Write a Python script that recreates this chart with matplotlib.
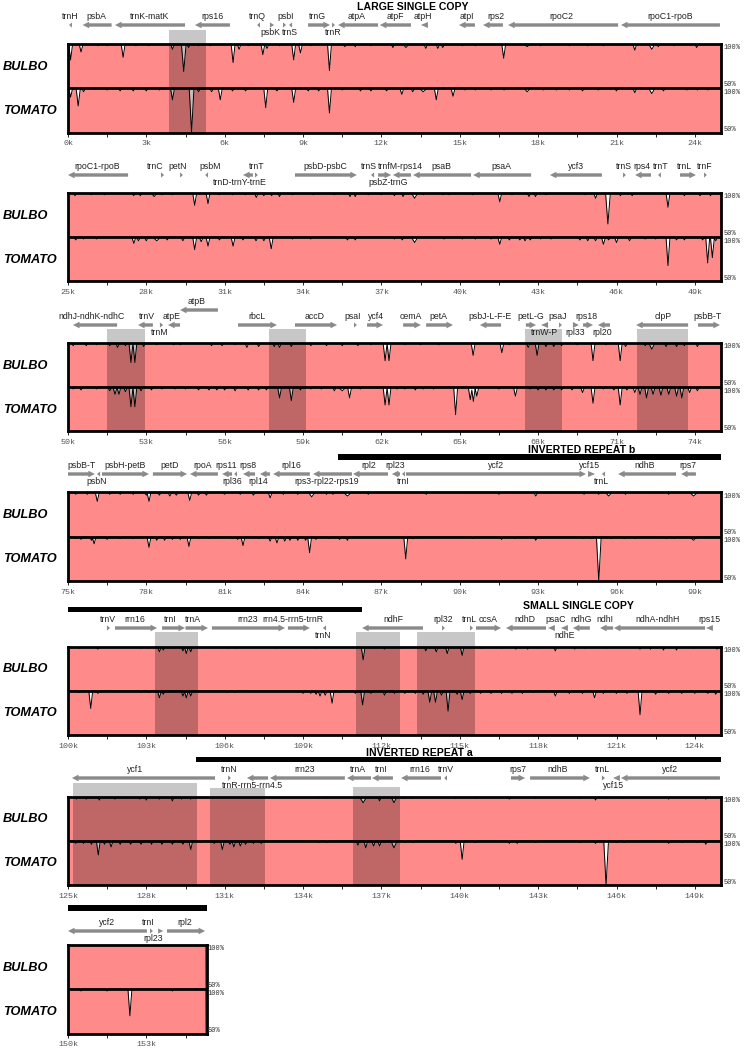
import numpy as np
import matplotlib
matplotlib.use("Agg")
import matplotlib.pyplot as plt
from matplotlib.patches import Polygon, Rectangle

# ---------------- data ----------------
ROW_STARTS = [0, 25, 50, 75, 100, 125, 150]
ROW_ENDS = [25, 50, 75, 100, 125, 150, 155.33]
GENOME_END = 155.28
TRACK_NAMES = ["BULBO", "TOMATO"]

# (position kb, minimum % identity[, half-width kb])
BULBO_DIPS = [
    (0.10, 82), (0.50, 91), (1.15, 98), (1.50, 98), (2.11, 85), (2.60, 98), (3.10, 98), (4.00, 94),
    (4.43, 69, 0.09), (4.62, 96), (5.00, 98), (5.45, 98), (6.32, 79), (6.55, 94), (6.90, 98), (7.46, 88),
    (7.62, 95), (8.10, 98), (8.64, 82), (8.90, 90), (9.30, 98), (10.01, 70), (10.60, 97), (11.00, 97),
    (11.60, 98), (12.44, 96), (12.94, 96, 0.12), (13.70, 95), (14.16, 95), (14.35, 96), (15.10, 98),
    (15.60, 98), (16.68, 84), (17.58, 97, 0.15), (18.10, 98), (19.20, 98), (19.90, 98), (20.50, 98),
    (21.70, 93), (22.35, 94, 0.12), (22.60, 97), (23.20, 98), (24.07, 96),
    (25.27, 97), (25.90, 98), (26.40, 98), (27.52, 97), (27.77, 97), (28.30, 96, 0.12), (28.60, 98),
    (29.00, 98), (29.85, 86), (30.36, 88), (30.80, 98), (31.30, 98), (31.80, 98), (32.21, 95), (32.50, 97),
    (32.80, 97), (33.10, 96), (33.60, 98), (34.40, 98), (35.20, 98), (35.80, 96), (36.00, 96), (36.50, 98),
    (37.00, 98), (37.50, 97), (37.83, 96), (38.27, 94, 0.12), (38.60, 98), (39.35, 98), (39.60, 98),
    (40.50, 98), (41.53, 90), (42.00, 98), (42.65, 96), (42.90, 96), (43.30, 98), (44.80, 98), (45.20, 94),
    (45.67, 65, 0.09), (46.15, 97), (46.60, 97), (47.97, 84), (48.60, 97), (49.20, 97), (49.60, 97),
    (50.20, 97), (50.70, 97), (51.10, 98), (51.60, 97), (51.90, 95), (52.20, 97), (52.41, 78), (52.56, 78),
    (52.90, 96), (53.40, 98), (54.05, 98), (54.30, 98), (55.50, 97), (55.90, 97), (56.40, 98), (56.85, 95),
    (57.30, 96), (57.90, 96), (58.10, 95), (58.55, 96), (59.30, 97), (59.90, 97), (60.50, 97), (61.10, 97),
    (61.60, 98), (62.14, 80), (62.29, 80), (62.90, 98), (63.50, 98), (64.20, 98), (65.51, 86), (66.61, 89),
    (66.90, 98), (67.62, 95), (67.96, 86), (68.30, 96), (68.60, 96), (68.90, 97), (69.50, 98), (70.10, 80),
    (70.60, 98), (71.14, 80), (71.35, 96), (72.10, 97), (72.35, 93, 0.12), (72.90, 96), (73.30, 96),
    (73.60, 97), (74.10, 96),
    (75.30, 98), (75.74, 98), (76.12, 90), (76.60, 98), (77.00, 98), (77.50, 98), (78.00, 97), (78.10, 90),
    (78.50, 97), (78.90, 96), (79.15, 97), (79.66, 91), (80.00, 97), (80.30, 97), (81.00, 98), (81.60, 98),
    (82.10, 97), (82.74, 94), (83.25, 98), (83.80, 98), (84.33, 95, 0.12), (84.90, 98), (85.15, 98),
    (85.70, 96, 0.15), (86.50, 98), (88.72, 98), (91.50, 98), (92.91, 96), (94.76, 98), (95.32, 98),
    (95.70, 96, 0.12), (96.35, 98), (98.00, 98), (98.95, 96, 0.15),
    (100.43, 98), (101.15, 97, 0.12), (102.80, 98), (103.10, 98), (103.50, 94), (103.65, 96), (104.40, 95),
    (104.53, 92), (104.70, 94), (106.10, 98), (106.40, 98), (108.00, 98), (109.50, 98), (111.30, 85),
    (112.12, 97), (112.80, 98), (113.70, 95), (114.10, 94), (114.52, 92), (115.09, 90), (115.85, 98),
    (116.60, 98), (117.15, 97), (117.60, 97), (118.00, 98), (118.66, 95), (119.40, 97), (119.80, 98),
    (120.60, 98), (121.90, 97), (122.30, 97), (122.80, 96), (123.30, 96), (123.96, 98), (124.85, 97),
    (125.33, 97), (125.70, 97), (126.20, 96), (126.80, 97), (127.25, 98), (127.75, 97), (128.00, 96),
    (128.50, 97), (129.00, 95), (129.35, 97), (129.70, 97), (134.60, 98), (134.90, 98), (136.30, 93, 0.15),
    (136.93, 95), (137.48, 93, 0.12), (137.90, 98), (138.20, 98), (139.85, 98), (140.60, 98),
    (141.90, 97, 0.15), (142.90, 98), (144.60, 98), (145.20, 96), (145.60, 98), (146.20, 98), (148.00, 97),
    (149.42, 97), (150.80, 99),
]

TOMATO_DIPS = [
    (0.10, 90), (0.39, 80, 0.08), (0.60, 96), (1.50, 98), (2.00, 97), (2.50, 97), (3.00, 97), (3.50, 98),
    (4.00, 87), (4.73, 50, 0.09), (5.00, 96), (5.50, 96), (5.83, 87), (6.30, 97), (6.80, 97), (7.57, 78),
    (8.00, 97), (8.64, 84), (9.20, 97), (9.60, 97), (10.01, 72), (10.50, 98), (11.20, 97), (11.60, 97),
    (12.20, 97), (12.78, 93), (13.20, 96), (13.60, 96, 0.15), (14.10, 87), (14.74, 91), (15.20, 98),
    (15.60, 98), (16.20, 98), (16.70, 98), (17.58, 96, 0.12), (18.20, 98), (18.70, 98), (19.20, 98),
    (19.70, 97), (20.30, 98), (21.00, 97), (21.70, 95), (22.35, 94, 0.12), (22.80, 97), (23.70, 98),
    (24.10, 98), (24.50, 98),
    (25.30, 97), (25.60, 98), (26.10, 98), (27.52, 93), (27.70, 96), (28.00, 96), (28.40, 96, 0.15),
    (28.80, 97), (29.40, 96), (29.85, 86), (30.10, 95), (30.36, 90), (30.80, 97), (31.32, 90), (31.70, 97),
    (32.20, 96), (32.50, 96), (32.78, 87), (33.60, 98), (34.30, 98), (35.70, 97), (36.00, 97),
    (37.50, 98), (37.80, 97), (38.27, 94, 0.12), (39.40, 98), (40.10, 98), (40.60, 98), (41.20, 98),
    (41.53, 92), (41.90, 97), (42.30, 97), (42.50, 96), (42.70, 97), (43.10, 98), (43.50, 98), (44.60, 97),
    (44.90, 96), (45.20, 96), (45.50, 92), (45.70, 97), (46.00, 94), (46.50, 96), (47.10, 98), (47.50, 98),
    (47.97, 68), (48.30, 97), (48.60, 97), (49.30, 97), (49.49, 71), (49.67, 77), (49.80, 96),
    (50.20, 98), (50.50, 97), (51.10, 98), (51.60, 96), (51.80, 92), (51.95, 92), (52.20, 95), (52.41, 78),
    (52.56, 78), (52.80, 96), (53.20, 97), (53.60, 98), (54.10, 98), (54.50, 98), (55.00, 97), (55.40, 97),
    (55.70, 97), (56.00, 97), (56.40, 96), (56.90, 97), (57.30, 97), (57.60, 97), (58.10, 88), (58.55, 85),
    (58.90, 97), (59.30, 98), (59.70, 98), (60.20, 96), (60.50, 96, 0.15), (60.78, 88), (61.20, 98),
    (62.14, 80), (62.29, 80), (62.60, 98), (62.90, 98), (63.30, 97), (63.60, 98), (64.00, 98), (64.84, 69),
    (65.40, 86), (65.52, 84), (65.65, 90), (66.50, 98), (67.13, 90), (67.70, 98), (68.00, 97), (68.30, 97),
    (68.60, 97), (68.90, 97), (69.30, 97), (69.70, 94), (70.10, 82), (70.50, 98), (70.90, 97), (71.14, 80),
    (71.40, 97), (71.70, 94), (71.90, 92), (72.15, 88), (72.40, 92), (72.70, 91), (73.00, 92), (73.30, 90),
    (73.50, 88), (73.80, 94), (74.10, 96),
    (75.30, 98), (75.50, 97), (75.90, 96), (76.00, 92), (76.50, 97), (77.00, 98), (77.50, 98), (78.10, 88),
    (78.40, 96), (78.70, 96), (79.00, 97), (79.30, 97), (79.63, 89), (80.00, 98), (80.40, 98), (81.30, 98),
    (81.50, 97), (81.70, 90), (82.30, 98), (82.74, 95), (83.00, 93), (83.30, 95), (83.50, 96), (83.80, 96),
    (84.10, 96), (84.25, 82), (84.50, 97), (85.00, 98), (85.40, 97), (85.70, 96),
    (87.93, 75), (88.20, 98), (90.50, 98), (91.60, 97), (92.10, 98), (92.91, 96), (94.70, 98), (95.00, 98),
    (95.32, 50, 0.09), (95.80, 98), (96.30, 98), (96.70, 98), (97.90, 98), (98.20, 98), (98.95, 96, 0.15),
    (100.43, 98), (100.87, 80), (101.15, 97), (102.80, 98), (103.10, 98), (103.50, 92), (103.65, 96),
    (104.40, 94), (104.53, 92), (104.70, 94), (106.10, 98), (106.40, 98), (109.00, 97), (109.30, 97),
    (109.50, 96), (109.65, 94), (109.85, 95), (110.11, 86), (110.40, 98), (111.00, 97), (111.28, 84),
    (111.60, 97), (112.12, 95), (112.50, 97), (112.90, 97), (113.30, 97), (113.60, 96), (113.85, 87),
    (114.07, 87), (114.30, 95), (114.55, 77), (114.90, 96), (115.09, 90), (115.40, 97), (115.80, 97),
    (116.20, 97), (116.60, 97), (117.00, 97), (117.40, 97), (117.80, 98), (118.66, 94), (119.20, 97),
    (119.70, 97), (120.16, 92), (120.50, 97), (121.00, 97), (121.40, 97), (121.90, 73), (122.50, 96),
    (123.00, 97), (123.50, 97), (124.00, 97), (124.50, 97), (124.80, 96),
    (125.30, 97), (125.60, 97), (125.90, 96), (126.16, 84), (126.40, 96), (126.65, 93), (127.00, 96),
    (127.40, 96), (127.80, 96), (128.20, 96), (128.60, 96), (129.00, 96), (129.40, 96), (129.70, 90),
    (130.10, 98), (130.60, 97), (130.91, 90), (131.20, 96), (131.35, 93), (131.60, 94), (131.80, 96),
    (132.10, 97), (132.40, 97), (134.60, 98), (134.90, 98), (136.10, 95), (136.40, 92), (136.70, 94),
    (136.93, 94), (137.48, 92, 0.12), (137.90, 98), (138.20, 98), (139.85, 97), (140.09, 79), (140.60, 98),
    (141.90, 97), (142.20, 97), (142.90, 98), (144.60, 98), (145.20, 97), (145.60, 50, 0.09), (146.00, 98),
    (146.30, 98), (148.00, 97), (148.50, 98), (149.10, 98), (149.42, 96),
    (150.50, 98), (151.50, 98), (152.37, 70), (154.00, 98),
]

# (name, start kb, end kb, strand, label kb, label side: a=above, b=below, r=raised)
GENES_ROW1 = [
    ("trnH", 0.04, 0.15, -1, 0.08, "a"), ("psbA", 0.56, 1.67, -1, 1.10, "a"),
    ("trnK-matK", 1.80, 4.48, -1, 3.14, "a"), ("rps16", 4.86, 6.20, -1, 5.55, "a"),
    ("trnQ", 7.24, 7.35, -1, 7.26, "a"), ("psbK", 7.73, 7.89, 1, 7.74, "b"),
    ("psbI", 8.23, 8.35, 1, 8.35, "a"), ("trnS", 8.46, 8.58, -1, 8.48, "b"),
    ("trnG", 9.19, 10.03, 1, 9.57, "a"), ("trnR", 10.11, 10.18, 1, 10.15, "b"),
    ("atpA", 10.34, 11.87, -1, 11.06, "a"), ("atpF", 11.94, 13.13, -1, 12.52, "a"),
    ("atpH", 13.51, 13.78, -1, 13.59, "a"), ("atpI", 14.97, 15.58, -1, 15.28, "a"),
    ("rps2", 15.89, 16.65, -1, 16.39, "a"), ("rpoC2", 16.85, 21.06, -1, 18.87, "a"),
    ("rpoC1-rpoB", 21.17, 24.96, -1, 23.05, "a"),
]
GENES_ROW2 = [
    ("rpoC1-rpoB", 25.0, 27.30, -1, 26.10, "a"), ("trnC", 28.56, 28.68, 1, 28.33, "a"),
    ("petN", 29.29, 29.40, 1, 29.21, "a"), ("psbM", 30.25, 30.36, -1, 30.44, "a"),
    ("trnD-trnY-trnE", 31.70, 32.08, -1, 31.58, "b"), ("trnT", 32.16, 32.27, 1, 32.22, "a"),
    ("psbD-psbC", 33.69, 36.06, 1, 34.84, "a"), ("trnS", 36.60, 36.72, -1, 36.52, "a"),
    ("psbZ-trnG", 36.87, 37.37, 1, 37.25, "b"), ("trnfM-rps14", 37.44, 38.13, -1, 37.74, "a"),
    ("psaB", 38.21, 40.43, -1, 39.28, "a"), ("psaA", 40.51, 42.73, -1, 41.58, "a"),
    ("ycf3", 43.45, 45.44, -1, 44.45, "a"), ("trnS", 46.25, 46.36, 1, 46.30, "a"),
    ("rps4", 46.71, 47.32, -1, 46.98, "a"), ("trnT", 47.59, 47.70, -1, 47.68, "a"),
    ("trnL", 48.43, 49.04, 1, 48.62, "a"), ("trnF", 49.35, 49.46, 1, 49.39, "a"),
]
GENES_ROW3 = [
    ("ndhJ-ndhK-ndhC", 50.19, 51.88, -1, 50.91, "a"), ("trnV", 52.68, 53.25, -1, 53.01, "a"),
    ("trnM", 53.52, 53.64, 1, 53.52, "b"), ("atpE", 53.83, 54.29, -1, 53.97, "a"),
    ("atpB", 54.29, 55.74, -1, 54.93, "r"), ("rbcL", 56.51, 58.00, 1, 57.22, "a"),
    ("accD", 58.69, 60.30, 1, 59.46, "a"), ("psaI", 60.95, 61.06, 1, 60.91, "a"),
    ("ycf4", 61.45, 62.06, 1, 61.79, "a"), ("cemA", 62.83, 63.51, 1, 63.13, "a"),
    ("petA", 63.71, 64.74, 1, 64.17, "a"), ("psbJ-L-F-E", 65.77, 66.58, -1, 66.16, "a"),
    ("petL-G", 67.53, 67.92, 1, 67.73, "a"), ("trnW-P", 68.11, 68.38, -1, 68.25, "b"),
    ("psaJ", 68.80, 68.91, 1, 68.76, "a"), ("rpl33", 69.33, 69.56, 1, 69.40, "b"),
    ("rps18", 69.72, 70.10, 1, 69.83, "a"), ("rpl20", 70.29, 70.75, -1, 70.46, "b"),
    ("clpP", 71.75, 73.74, -1, 72.78, "a"), ("psbB-T", 74.12, 74.96, 1, 74.50, "a"),
]
GENES_ROW4 = [
    ("psbB-T", 75.0, 76.03, 1, 75.52, "a"), ("psbN", 76.11, 76.23, -1, 76.10, "b"),
    ("psbH-petB", 76.30, 78.10, 1, 77.18, "a"), ("petD", 78.25, 79.56, 1, 78.91, "a"),
    ("rpoA", 79.67, 80.74, -1, 80.17, "a"), ("rps11", 80.90, 81.28, -1, 81.04, "a"),
    ("rpl36", 81.36, 81.47, -1, 81.29, "b"), ("rps8", 81.70, 82.16, -1, 81.89, "a"),
    ("rpl14", 82.35, 82.73, -1, 82.27, "b"), ("rpl16", 82.85, 84.26, -1, 83.56, "a"),
    ("rps3-rpl22-rps19", 84.38, 85.87, -1, 84.92, "b"), ("rpl2", 85.91, 87.25, -1, 86.52, "a"),
    ("rpl23", 87.40, 87.71, -1, 87.51, "a"), ("trnI", 87.79, 87.90, -1, 87.85, "b"),
    ("ycf2", 87.94, 94.83, 1, 91.39, "a"), ("ycf15", 94.91, 95.18, 1, 94.97, "a"),
    ("trnL", 95.44, 95.56, -1, 95.41, "b"), ("ndhB", 96.06, 98.28, -1, 97.08, "a"),
    ("rps7", 98.47, 99.04, -1, 98.74, "a"),
]
GENES_ROW5 = [
    ("trnV", 101.49, 101.61, 1, 101.53, "a"), ("rrn16", 101.80, 103.41, 1, 102.57, "a"),
    ("trnI", 103.60, 104.48, 1, 103.91, "a"), ("trnA", 104.50, 105.36, 1, 104.79, "a"),
    ("rrn23", 105.51, 108.31, 1, 106.89, "a"), ("rrn4.5-rrn5-trnR", 108.42, 109.26, 1, 108.63, "a"),
    ("trnN", 109.76, 109.88, -1, 109.76, "b"), ("ndhF", 111.26, 113.59, -1, 112.44, "a"),
    ("rpl32", 114.32, 114.43, 1, 114.36, "a"), ("trnL", 115.39, 115.51, 1, 115.36, "a"),
    ("ccsA", 115.62, 116.58, 1, 116.08, "a"), ("ndhD", 116.77, 118.30, -1, 117.48, "a"),
    ("psaC", 118.38, 118.64, -1, 118.67, "a"), ("ndhE", 118.87, 119.14, -1, 119.02, "b"),
    ("ndhG", 119.33, 119.98, -1, 119.64, "a"), ("ndhI", 120.37, 120.87, -1, 120.55, "a"),
    ("ndhA-ndhH", 120.90, 124.39, -1, 122.59, "a"), ("rps15", 124.43, 124.69, -1, 124.57, "a"),
]
GENES_ROW6 = [
    ("ycf1", 125.15, 130.63, -1, 127.57, "a"), ("trnN", 131.13, 131.24, 1, 131.18, "a"),
    ("trnR-rrn5-rrn4.5", 131.85, 132.66, -1, 132.06, "b"), ("rrn23", 132.73, 135.60, -1, 134.07, "a"),
    ("trnA", 135.68, 136.60, -1, 136.10, "a"), ("trnI", 136.64, 137.44, -1, 136.98, "a"),
    ("rrn16", 137.75, 139.28, -1, 138.46, "a"), ("trnV", 139.40, 139.51, -1, 139.47, "a"),
    ("rps7", 141.96, 142.50, 1, 142.23, "a"), ("ndhB", 142.69, 144.98, 1, 143.76, "a"),
    ("trnL", 145.44, 145.56, 1, 145.48, "a"), ("ycf15", 145.87, 146.13, -1, 145.87, "b"),
    ("ycf2", 146.17, 149.96, -1, 148.04, "a"),
]
GENES_ROW7 = [
    ("ycf2", 150.0, 153.02, -1, 151.48, "a"), ("trnI", 153.14, 153.25, 1, 153.07, "a"),
    ("rpl23", 153.45, 153.64, 1, 153.25, "b"), ("rpl2", 153.79, 155.25, 1, 154.48, "a"),
]
GENES = [GENES_ROW1, GENES_ROW2, GENES_ROW3, GENES_ROW4, GENES_ROW5, GENES_ROW6, GENES_ROW7]

# shaded (highlighted) regions, kb
SHADED = [(3.87, 5.28), (51.50, 52.94), (57.68, 59.12), (67.49, 68.91), (71.78, 73.73),
          (103.32, 104.98), (111.03, 112.70), (113.37, 115.60),
          (125.18, 129.94), (130.45, 132.53), (135.93, 137.71)]
SHADE_GAP = [14, 14, 14, 14, 14, 15, 15, 15, 13.5, 8.5, 9.5]

# structural region bars (start kb, end kb, row)
REGION_BARS = [(85.34, 100.0, 3), (100.0, 111.26, 4), (129.90, 150.0, 5), (150.0, 155.33, 6)]
REGION_TITLES = [("LARGE SINGLE COPY", 13.21, 0), ("INVERTED REPEAT b", 94.68, 3),
                 ("SMALL SINGLE COPY", 119.56, 4), ("INVERTED REPEAT a", 138.44, 5)]

# ---------------- layout (pixels) ----------------
W, H = 746, 1051
PANEL_LEFT = 68
PX_PER_KB = 26.12
PANEL_TOPS = [44, 193, 343, 492.5, 646.5, 796.5, 945]
PANEL_H = 88.5
ANNOT_TOPS = [0, 150, 290, 440, 598, 748, 898]
ARROW_Y = [25, 175, 325, 474, 628, 778, 931]
BAR_Y = {3: 457, 4: 609.5, 5: 759.5, 6: 908}
TITLE_Y = {0: 7, 3: 450, 4: 606, 5: 753}

PINK = "#ff8a8a"
GENE_GRAY = "#8a8a8a"
plt.rcParams["font.family"] = ["Liberation Sans", "DejaVu Sans"]

fig = plt.figure(figsize=(W / 100, H / 100), dpi=100)


def add_ax(x0, y0, x1, y1):
    return fig.add_axes([x0 / W, 1 - y1 / H, (x1 - x0) / W, (y1 - y0) / H])


def profile(xs, dips):
    y = np.full_like(xs, 100.0)
    for d in dips:
        p, v = d[0], d[1]
        w = d[2] if len(d) > 2 else 0.075
        t = 1 - np.abs(xs - p) / w
        y = np.minimum(y, np.where(t > 0, 100 - (100 - v) * t, 100.0))
    return y


def draw_gene(ax, s, e, strand, yc):
    L = e - s
    hl = 0.25
    if L <= hl * 1.15:
        ln = max(L, 0.11)
        hh = 3.0 if L > 0.2 else 2.6
        if strand > 0:
            pts = [(s, yc - hh), (s + ln, yc), (s, yc + hh)]
        else:
            pts = [(e, yc - hh), (e - ln, yc), (e, yc + hh)]
    else:
        sw, hw = 1.7, 3.3
        if strand > 0:
            pts = [(s, yc - sw), (e - hl, yc - sw), (e - hl, yc - hw), (e, yc),
                   (e - hl, yc + hw), (e - hl, yc + sw), (s, yc + sw)]
        else:
            pts = [(e, yc - sw), (s + hl, yc - sw), (s + hl, yc - hw), (s, yc),
                   (s + hl, yc + hw), (s + hl, yc + sw), (e, yc + sw)]
    ax.add_patch(Polygon(pts, closed=True, color=GENE_GRAY, lw=0))


for r, (start, end) in enumerate(zip(ROW_STARTS, ROW_ENDS)):
    span = end - start
    x0 = PANEL_LEFT
    x1 = PANEL_LEFT + span * PX_PER_KB
    top = PANEL_TOPS[r]
    bot = top + PANEL_H

    # ---- identity panel ----
    ax = add_ax(x0, top, x1, bot)
    ax.set_xlim(start, end)
    ax.set_ylim(0, 2)
    ax.set_facecolor("white")
    xs = np.linspace(start, end, int(span * 300) + 1)
    for base, dips in ((1, BULBO_DIPS), (0, TOMATO_DIPS)):
        ident = profile(xs, [d for d in dips if start - 0.5 <= d[0] <= end + 0.5])
        ident[xs > GENOME_END] = 50
        yy = base + (ident - 50) / 50.0
        ax.fill_between(xs, base, yy, color=PINK, lw=0, zorder=1)
        ax.plot(xs, yy, color="black", lw=0.7, zorder=2)
    ax.axhline(1, color="black", lw=2.0, zorder=4)
    for sp in ax.spines.values():
        sp.set_linewidth(2.0)
    for (a, b), gap in zip(SHADED, SHADE_GAP):
        if a >= start and b <= end:
            ax.axvspan(a, b, color="black", alpha=0.25, lw=0, zorder=5)
    ax.set_yticks([])
    majors = np.arange(start, end + 0.01, 3)
    ax.set_xticks(majors)
    ax.set_xticklabels([f"{int(round(t))}k" for t in majors],
                       family="Liberation Mono", fontsize=6, color="#555555")
    ax.set_xticks(np.arange(start + 1.5, end, 3), minor=True)
    ax.tick_params(axis="x", which="both", length=3, width=0.6, direction="out", pad=2.5)
    for ytxt, lab in ((0.955, "100%"), (0.545, "50%"), (0.455, "100%"), (0.03, "50%")):
        ax.text(1.004, ytxt, lab, transform=ax.transAxes, ha="left", va="center",
                family="Liberation Mono", fontsize=5, color="#333333")

    # track names
    for name, off in zip(TRACK_NAMES, (23, 67)):
        fig.text(3 / W, 1 - (top + off) / H, name, fontsize=9.2, fontweight="bold",
                 style="italic", ha="left", va="center")

    # ---- annotation axes ----
    aax = add_ax(x0, ANNOT_TOPS[r], x1, top)
    aax.set_xlim(start, end)
    aax.set_ylim(top, ANNOT_TOPS[r])
    aax.axis("off")
    for (a, b), gap in zip(SHADED, SHADE_GAP):
        if a >= start and b <= end:
            aax.add_patch(Rectangle((a, top - gap), b - a, gap, color="black",
                                    alpha=0.22, lw=0, clip_on=False))
    ay = ARROW_Y[r]
    for name, s, e, strand, lx, side in GENES[r]:
        yc = ay - 15 if side == "r" else ay
        draw_gene(aax, s, e, strand, yc)
        ly = yc + 7.5 if side == "b" else yc - 8.5
        aax.text(lx, ly, name, ha="center", va="center", fontsize=6.3,
                 color="#222222", clip_on=False)
    for a, b, rr in REGION_BARS:
        if rr == r:
            aax.add_patch(Rectangle((a, BAR_Y[r] - 2.6), b - a, 5.2, color="black",
                                    lw=0, clip_on=False))
    for txt, tx, rr in REGION_TITLES:
        if rr == r:
            aax.text(tx, TITLE_Y[r], txt, ha="center", va="center", fontsize=7.6,
                     fontweight="bold", color="black", clip_on=False)

fig.savefig("out.png", dpi=100)
